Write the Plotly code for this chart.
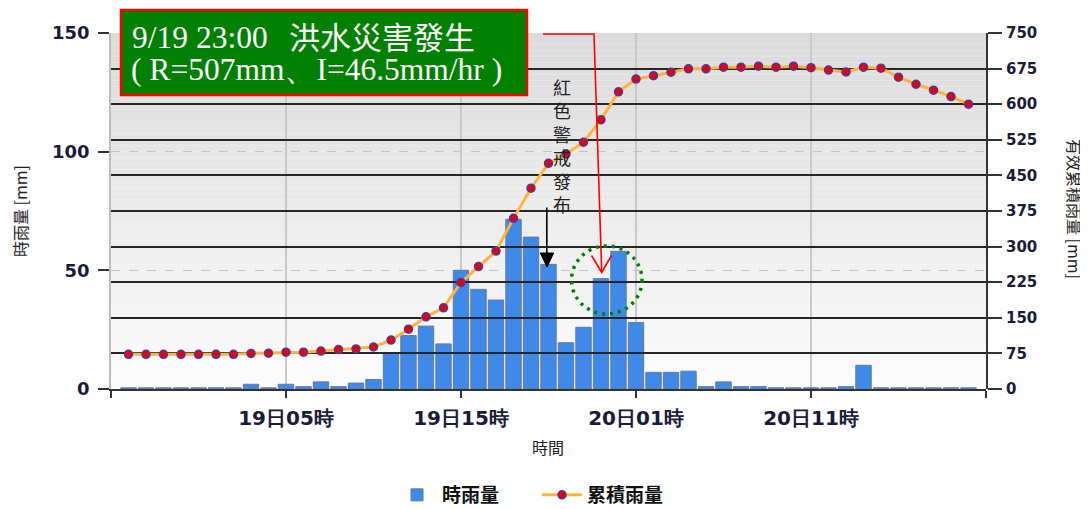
import plotly.graph_objects as go

# ---------------- data ----------------
hour_pos = list(range(1, 50))  # hourly slots, 18日20時 ... 20日20時
hourly_rain = [0.5, 0.5, 0.5, 0.5, 0.5, 0.5, 0.5, 2, 0.5, 2,
               1, 3, 1, 2.5, 4, 15, 22.5, 26.5, 19, 50,
               42, 37.5, 71.5, 64, 52.5, 19.5, 26, 46.5, 58, 28,
               7, 7, 7.5, 1, 3, 1, 1, 0.5, 0.5, 0.5,
               0.5, 1, 10, 0.5, 0.5, 0.5, 0.5, 0.5, 0.5]
effective_cum = [73, 73, 73, 73, 73, 73, 73, 75, 75.5, 77.5,
                 77.5, 80, 83, 84.5, 88.5, 103, 126, 152, 171, 224.5,
                 258, 290.5, 359.5, 423, 475.5, 495, 520, 567.5, 626, 653,
                 660, 667.5, 674.5, 674.5, 678, 678, 680, 678, 680, 677,
                 672, 668, 678, 676, 657, 642, 629.5, 616, 600]
tick_pos = [0, 10, 20, 30, 40, 50]
tick_text = ["", "19日05時", "19日15時", "20日01時", "20日11時", ""]
left_ticks = [0, 50, 100, 150]
right_ticks = [0, 75, 150, 225, 300, 375, 450, 525, 600, 675, 750]

name_bar = "時雨量"
name_line = "累積雨量"
title_left = "時雨量 [mm]"
title_right = "有效累積雨量 [mm]"
title_x = "時間"
box_line1a = "9/19 23:00"
box_line1b = "洪水災害發生"
box_line2 = "( R=507mm、I=46.5mm/hr )"
warn_text = "紅色警戒發布"

# ---------------- geometry (page pixels -> paper) ----------------
# the page body has an 8px margin, so the figure starts at page (8, 8)
OFF = 8
PAGE_W, PAGE_H = 1088, 509
W, H = PAGE_W - OFF, PAGE_H - OFF
PL, PR, PT, PB = 111, 986, 33, 389          # plot area in page pixels
PW, PH = PR - PL, PB - PT
ML, MT = PL - OFF, PT - OFF
MR, MB = W - ML - PW, H - MT - PH


def px(x):
    return (x - PL) / PW


def py(y):
    return (PB - y) / PH


def path(points, close=False):
    s = "M " + " L ".join(f"{px(a):.5f},{py(b):.5f}" for a, b in points)
    return s + (" Z" if close else "")


tick_col = "#1b1b3a"

fig = go.Figure()
fig.add_trace(go.Bar(
    x=hour_pos, y=hourly_rain, name=name_bar, xaxis="x", yaxis="y",
    width=0.88, marker=dict(color="#3f8ae8", line=dict(color="#62799e", width=1)),
))
fig.add_trace(go.Scatter(
    x=hour_pos, y=effective_cum, name=name_line, xaxis="x2", yaxis="y2",
    mode="lines+markers",
    line=dict(color="#ffb23f", width=3),
    marker=dict(color="#e3001b", size=8, line=dict(color="#4a3f8f", width=1.5)),
))

shapes = []
# gradient background of plot area
N = 60
for i in range(N):
    t = (i + 0.5) / N  # 0 bottom -> 1 top
    g = round(252 - (252 - 219) * t)
    shapes.append(dict(type="rect", xref="x domain", yref="y domain",
                       x0=0, x1=1, y0=i / N, y1=(i + 1) / N,
                       fillcolor=f"rgb({g},{g},{g})", line=dict(width=0),
                       layer="below"))

# green box
shapes.append(dict(type="rect", xref="paper", yref="paper",
                   x0=px(121), x1=px(527), y0=py(95), y1=py(10),
                   fillcolor="#008000", line=dict(color="#ff0000", width=2.5),
                   layer="above"))
# red arrow
shapes.append(dict(type="path", xref="paper", yref="paper",
                   path=path([(543, 34), (594, 34), (601.7, 271.5)]),
                   line=dict(color="#ff0000", width=1.6), layer="above"))
shapes.append(dict(type="path", xref="paper", yref="paper",
                   path=path([(591.5, 255.5), (601.7, 272.5), (611.5, 255.5)]),
                   line=dict(color="#ff0000", width=1.6), layer="above"))
# black arrow
shapes.append(dict(type="path", xref="paper", yref="paper",
                   path=path([(546.8, 207.5), (546.8, 256)]),
                   line=dict(color="#000000", width=1.6), layer="above"))
shapes.append(dict(type="path", xref="paper", yref="paper",
                   path=path([(540.3, 253), (553.7, 253), (547, 267)], close=True),
                   fillcolor="#000000", line=dict(color="#000000", width=1), layer="above"))
# green dotted circle
shapes.append(dict(type="circle", xref="paper", yref="paper",
                   x0=px(571.5), x1=px(642), y0=py(314), y1=py(246),
                   line=dict(color="#008000", width=3.5, dash="3px,5px"), layer="above"))

annotations = [
    dict(text=box_line1a, x=px(130), y=py(37), xanchor="left", yanchor="middle",
         font=dict(family="Liberation Serif", size=31.5, color="white")),
    dict(text=box_line1b, x=px(287), y=py(36), xanchor="left", yanchor="middle",
         font=dict(family="Noto Sans CJK TC", size=31, color="white")),
    dict(text=box_line2, x=px(129), y=py(69), xanchor="left", yanchor="middle",
         font=dict(family="Liberation Serif", size=31.5, color="white")),
    dict(text=title_left, x=px(20), y=py(211), textangle=-90,
         xanchor="center", yanchor="middle",
         font=dict(family="Noto Sans CJK TC", size=16, color="#222")),
    dict(text=title_right, x=px(1075), y=py(209), textangle=90,
         xanchor="center", yanchor="middle",
         font=dict(family="Noto Sans CJK TC", size=16, color="#222")),
    dict(text=title_x, x=px(548), y=py(447), xanchor="center", yanchor="middle",
         font=dict(family="Noto Sans CJK TC", size=16, color="#222")),
    dict(text="<br>".join(warn_text), x=px(562), y=py(145),
         xanchor="center", yanchor="middle",
         font=dict(family="Noto Sans CJK TC", size=18, color="#222")),
]
for a in annotations:
    a.update(xref="paper", yref="paper", showarrow=False)

fig.update_layout(
    width=W, height=H,
    margin=dict(l=ML, r=MR, t=MT, b=MB, pad=0, autoexpand=False),
    paper_bgcolor="white", plot_bgcolor="rgba(0,0,0,0)",
    showlegend=True,
    legend=dict(orientation="h", x=px(537), xanchor="center", y=py(495), yanchor="middle",
                font=dict(family="Noto Sans CJK TC", size=19, color="#111", weight="bold"),
                bgcolor="rgba(0,0,0,0)", itemwidth=40, tracegroupgap=0,
                entrywidth=90, entrywidthmode="pixels"),
    xaxis=dict(range=[0, 50], tickmode="array", tickvals=tick_pos, ticktext=tick_text,
               ticks="outside", ticklen=7, tickwidth=1.5, tickcolor="#333",
               showline=True, linecolor="#333", linewidth=2,
               showgrid=True, gridcolor="#c9c9c9", gridwidth=1.5, zeroline=False,
               tickfont=dict(family="DejaVu Sans", size=20, color=tick_col, weight="bold"),
               ticklabelstandoff=3, domain=[0, 1], anchor="y"),
    yaxis=dict(range=[0, 150], tickmode="array", tickvals=left_ticks,
               ticks="outside", ticklen=11, tickwidth=1.5, tickcolor="#333",
               showline=True, linecolor="#bdbdbd", linewidth=1.5,
               showgrid=True, gridcolor="#c4c4c4", griddash="dash", gridwidth=1,
               zeroline=False, anchor="x",
               tickfont=dict(family="DejaVu Sans", size=18, color=tick_col, weight="bold"),
               ticklabelstandoff=5),
    xaxis2=dict(range=[0, 50], visible=False, anchor="y2", domain=[0, 1]),
    yaxis2=dict(range=[0, 750], tickmode="array", tickvals=right_ticks, side="right",
                anchor="x2", ticks="outside", ticklen=14, tickwidth=1.5, tickcolor="#333",
                showline=True, linecolor="#333", linewidth=2,
                showgrid=True, gridcolor="#262626", gridwidth=1.5, zeroline=False,
                tickfont=dict(family="DejaVu Sans", size=15, color=tick_col, weight="bold"),
                ticklabelstandoff=1),
    shapes=shapes, annotations=annotations,
)

fig.write_html("out.html")
